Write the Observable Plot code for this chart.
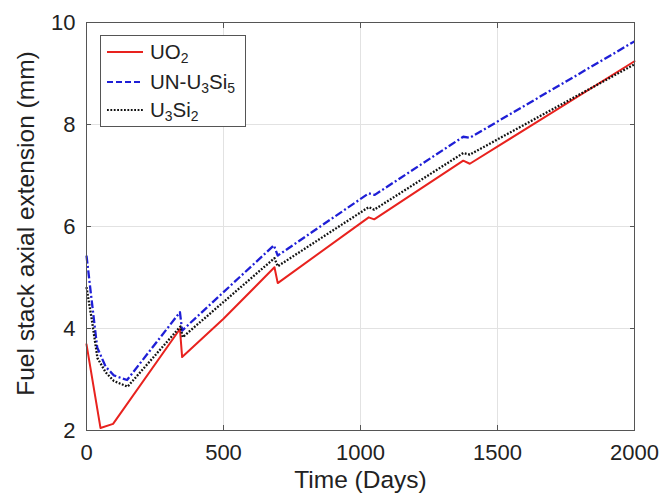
<!DOCTYPE html>
<html><head><meta charset="utf-8">
<script src="https://cdn.jsdelivr.net/npm/d3@7"></script>
<script src="https://cdn.jsdelivr.net/npm/@observablehq/plot@0.6"></script>
<style>
body{margin:0;background:#fff;}
#wrap{position:relative;width:662px;height:497px;font-family:"Liberation Sans",Arial,Helvetica,sans-serif;}
#legend{position:absolute;left:100px;top:35px;width:144px;height:90px;border:1px solid #555;background:#fff;}
.row{position:absolute;left:0;height:24px;display:flex;align-items:center;white-space:nowrap;}
.row svg{margin-left:6px;}
.row span{margin-left:7px;font-size:20.5px;color:#222;line-height:24px;}
sub{font-size:0.68em;vertical-align:-0.28em;line-height:0;}
</style></head>
<body>
<div id="wrap"><div id="chart"></div><div id="legend"></div></div>
<script>
// Tick values
const xTicks = [0, 500, 1000, 1500, 2000];
const yTicks = [2, 4, 6, 8, 10];

// UO2 series
const uo2Days   = [0, 51, 97, 341, 349, 500, 686, 698, 1030, 1050, 1375, 1399, 2000];
const uo2Values = [3.69, 2.05, 2.13, 3.99, 3.44, 4.19, 5.20, 4.89, 6.18, 6.14, 7.29, 7.23, 9.24];

// UN-U3Si5 series
const unDays   = [0, 20, 39, 70, 100, 148, 341, 349, 684, 698, 1030, 1052, 1375, 1399, 2000];
const unValues = [5.43, 4.50, 3.63, 3.25, 3.08, 2.99, 4.32, 3.96, 5.63, 5.43, 6.65, 6.62, 7.76, 7.74, 9.63];

// U3Si2 series
const siDays   = [0, 20, 40, 70, 100, 150, 343, 351, 686, 698, 1030, 1050, 1375, 1399, 2000];
const siValues = [4.81, 4.15, 3.42, 3.14, 2.97, 2.86, 4.04, 3.83, 5.38, 5.22, 6.38, 6.33, 7.44, 7.41, 9.18];

const seriesNames = ["UO2", "UN-U3Si5", "U3Si2"];
const seriesLabels = ["UO<sub>2</sub>", "UN-U<sub>3</sub>Si<sub>5</sub>", "U<sub>3</sub>Si<sub>2</sub>"];
const seriesColors = ["#e8221e", "#1f1fd6", "#111111"];
const seriesDash = [null, "8,2.5,2,2.5", "1.8,1.6"];
const legendDash = [null, "6,3", "1.8,1.6"];

const toRows = (days, vals) => days.map((d, i) => ({day: d, value: vals[i]}));
const uo2Rows = toRows(uo2Days, uo2Values);
const unRows = toRows(unDays, unValues);
const siRows = toRows(siDays, siValues);

const font = '"Liberation Sans", Arial, Helvetica, sans-serif';
const fmt = d => String(d);

const chart = Plot.plot({
  width: 662, height: 497,
  marginLeft: 86, marginRight: 28, marginTop: 22, marginBottom: 67,
  style: {fontFamily: font, fontSize: "22px", color: "#222", background: "#fff"},
  x: {domain: [0, 2000]},
  y: {domain: [2, 10]},
  marks: [
    Plot.gridX(xTicks, {stroke: "#e2e2e2", strokeOpacity: 1}),
    Plot.gridY(yTicks, {stroke: "#e2e2e2", strokeOpacity: 1}),
    Plot.line(uo2Rows, {x: "day", y: "value", stroke: seriesColors[0], strokeWidth: 2}),
    Plot.line(unRows, {x: "day", y: "value", stroke: seriesColors[1], strokeWidth: 2.3, strokeDasharray: seriesDash[1], strokeLinecap: "butt"}),
    Plot.line(siRows, {x: "day", y: "value", stroke: seriesColors[2], strokeWidth: 2.3, strokeDasharray: seriesDash[2], strokeLinecap: "butt"}),
    Plot.frame({stroke: "#555"}),
    Plot.axisX(xTicks, {tickSize: -5, tickPadding: 19, fontSize: 22, label: null, stroke: "#555", tickFormat: fmt}),
    Plot.axisX(xTicks, {anchor: "top", tickSize: -5, tickFormat: () => "", label: null, stroke: "#555"}),
    Plot.axisY(yTicks, {tickSize: -5, tickPadding: 16, fontSize: 22, label: null, stroke: "#555", tickFormat: fmt}),
    Plot.axisY(yTicks, {anchor: "right", tickSize: -5, tickFormat: () => "", label: null, stroke: "#555"}),
    Plot.text(["Time (Days)"], {frameAnchor: "bottom", dy: 57, fontSize: 24.5, fill: "#222", textAnchor: "middle"}),
    Plot.text(["Fuel stack axial extension (mm)"], {frameAnchor: "left", dx: -60, dy: -3, rotate: -90, fontSize: 24.5, fill: "#222", textAnchor: "middle"})
  ]
});
document.getElementById("chart").appendChild(chart);

// Legend
const legend = document.getElementById("legend");
const rowCenters = [17, 47, 75];
seriesNames.forEach((name, i) => {
  const row = document.createElement("div");
  row.className = "row";
  row.style.top = (rowCenters[i] - 13) + "px";
  const dash = legendDash[i] ? `stroke-dasharray="${legendDash[i]}"` : "";
  row.innerHTML = `<svg width="36" height="24"><line x1="0" x2="36" y1="12" y2="12" stroke="${seriesColors[i]}" stroke-width="2.2" ${dash}/></svg><span>${seriesLabels[i]}</span>`;
  legend.appendChild(row);
});
</script>
</body></html>
